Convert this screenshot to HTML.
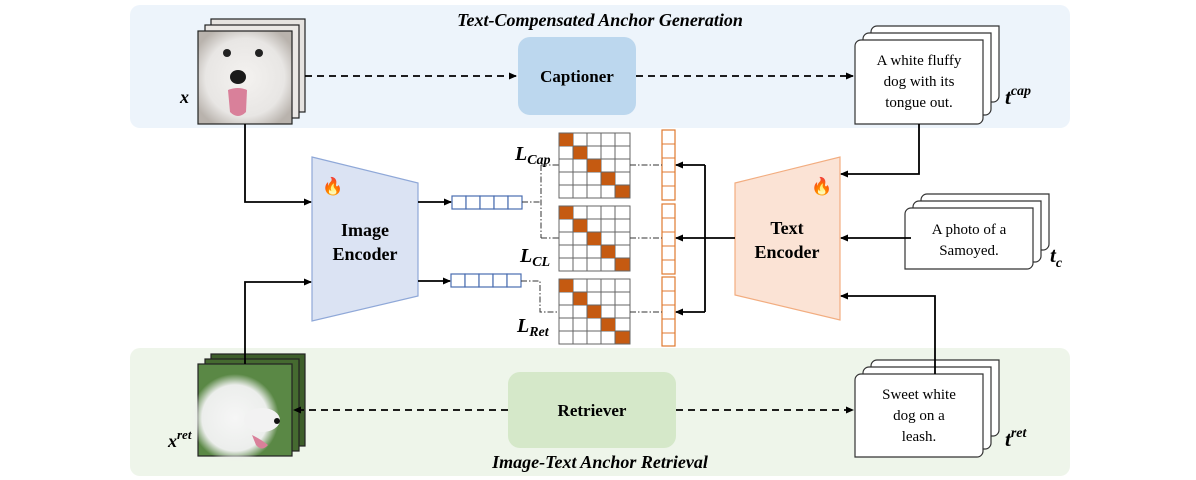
<!DOCTYPE html>
<html><head><meta charset="utf-8"><style>
html,body{margin:0;padding:0;background:#fff}
svg{display:block}
.t{font-family:"Liberation Serif",serif}
</style></head><body>
<svg width="1196" height="480" viewBox="0 0 1196 480" xmlns="http://www.w3.org/2000/svg">
<defs>
<marker id="a" markerWidth="8" markerHeight="8" refX="7" refY="4" orient="auto" markerUnits="userSpaceOnUse"><path d="M0,0.5 L8,4 L0,7.5 Z" fill="#000"/></marker>
<radialGradient id="dog1" cx="50%" cy="50%" r="60%"><stop offset="0" stop-color="#f4f2f0"/><stop offset="0.7" stop-color="#e8e6e4"/><stop offset="1" stop-color="#b9b3ad"/></radialGradient>
<radialGradient id="dog2" cx="50%" cy="50%" r="50%"><stop offset="0" stop-color="#f6f6f6"/><stop offset="0.75" stop-color="#eceeec"/><stop offset="1" stop-color="#eceeec" stop-opacity="0"/></radialGradient>
</defs>
<rect x="130" y="5" width="940" height="123" rx="10" fill="#edf4fb"/>
<rect x="130" y="348" width="940" height="128" rx="10" fill="#eef5ea"/>
<text x="600" y="26" text-anchor="middle" class="t" font-size="18" font-weight="bold" font-style="italic">Text-Compensated Anchor Generation</text>
<text x="600" y="468" text-anchor="middle" class="t" font-size="18" font-weight="bold" font-style="italic">Image-Text Anchor Retrieval</text>

<!-- top images -->
<rect x="211" y="19" width="94" height="93" fill="#e6e3e0" stroke="#222" stroke-width="1.2"/>
<rect x="205" y="25" width="94" height="93" fill="#ebe8e5" stroke="#222" stroke-width="1.2"/>
<rect x="198" y="31" width="94" height="93" fill="url(#dog1)" stroke="#222" stroke-width="1.2"/>
<circle cx="227" cy="53" r="4" fill="#222"/><circle cx="259" cy="53" r="4" fill="#222"/>
<ellipse cx="238" cy="77" rx="8" ry="7" fill="#1a1a1a"/>
<path d="M228,90 Q238,86 247,90 L246,112 Q238,120 230,112 Z" fill="#d9809a"/>
<text x="180" y="103" class="t" font-size="18" font-weight="bold" font-style="italic">x</text>

<!-- bottom images -->
<rect x="211" y="354" width="94" height="92" fill="#3d5e2a" stroke="#222" stroke-width="1.2"/>
<rect x="205" y="359" width="94" height="92" fill="#456a30" stroke="#222" stroke-width="1.2"/>
<rect x="198" y="364" width="94" height="92" fill="#5a8845" stroke="#222" stroke-width="1.2"/>
<ellipse cx="235" cy="418" rx="44" ry="44" fill="url(#dog2)"/>
<ellipse cx="262" cy="420" rx="18" ry="12" fill="#f2f2f2"/>
<path d="M252,435 Q262,440 268,445 Q262,452 256,445 Z" fill="#d9809a"/>
<circle cx="277" cy="421" r="3" fill="#111"/>
<text x="168" y="447" class="t" font-size="18" font-weight="bold" font-style="italic">x<tspan font-size="13" dy="-8">ret</tspan></text>

<!-- captioner / retriever -->
<rect x="518" y="37" width="118" height="78" rx="12" fill="#bcd7ee"/>
<text x="577" y="82" text-anchor="middle" class="t" font-size="17" font-weight="bold">Captioner</text>
<rect x="508" y="372" width="168" height="76" rx="12" fill="#d5e8c9"/>
<text x="592" y="416" text-anchor="middle" class="t" font-size="17" font-weight="bold">Retriever</text>

<!-- text card stacks -->
<g fill="#fff" stroke="#333" stroke-width="1.2">
<path d="M877,26 h122 v70 a6,6 0 0 1 -6,6 h-122 v-70 a6,6 0 0 1 6,-6z"/>
<path d="M869,33 h122 v76 a6,6 0 0 1 -6,6 h-122 v-76 a6,6 0 0 1 6,-6z"/>
<path d="M861,40 h122 v78 a6,6 0 0 1 -6,6 h-122 v-78 a6,6 0 0 1 6,-6z"/>
<path d="M927,194 h122 v50 a6,6 0 0 1 -6,6 h-122 v-50 a6,6 0 0 1 6,-6z"/>
<path d="M919,201 h122 v55 a6,6 0 0 1 -6,6 h-122 v-55 a6,6 0 0 1 6,-6z"/>
<path d="M911,208 h122 v55 a6,6 0 0 1 -6,6 h-122 v-55 a6,6 0 0 1 6,-6z"/>
<path d="M877,360 h122 v70 a6,6 0 0 1 -6,6 h-122 v-70 a6,6 0 0 1 6,-6z"/>
<path d="M869,367 h122 v76 a6,6 0 0 1 -6,6 h-122 v-76 a6,6 0 0 1 6,-6z"/>
<path d="M861,374 h122 v77 a6,6 0 0 1 -6,6 h-122 v-77 a6,6 0 0 1 6,-6z"/>
</g>
<g class="t" font-size="15" text-anchor="middle">
<text x="919" y="65">A white fluffy</text><text x="919" y="86">dog with its</text><text x="919" y="107">tongue out.</text>
<text x="969" y="234">A photo of a</text><text x="969" y="255">Samoyed.</text>
<text x="919" y="399">Sweet white</text><text x="919" y="420">dog on a</text><text x="919" y="441">leash.</text>
</g>
<text x="1005" y="104" class="t" font-size="21" font-weight="bold" font-style="italic">t<tspan font-size="14" dy="-9">cap</tspan></text>
<text x="1050" y="262" class="t" font-size="21" font-weight="bold" font-style="italic">t<tspan font-size="14" dy="5">c</tspan></text>
<text x="1005" y="446" class="t" font-size="21" font-weight="bold" font-style="italic">t<tspan font-size="14" dy="-9">ret</tspan></text>

<!-- encoders -->
<polygon points="312,157 418,183 418,296 312,321" fill="#dbe3f3" stroke="#8fa8d8" stroke-width="1.2"/>
<text x="365" y="236" text-anchor="middle" class="t" font-size="18" font-weight="bold">Image</text>
<text x="365" y="260" text-anchor="middle" class="t" font-size="18" font-weight="bold">Encoder</text>
<text x="333" y="192" font-size="17" text-anchor="middle" fill="#f06020">🔥</text>
<polygon points="735,183 840,157 840,320 735,295" fill="#fbe3d5" stroke="#f2ad80" stroke-width="1.2"/>
<text x="787" y="234" text-anchor="middle" class="t" font-size="18" font-weight="bold">Text</text>
<text x="787" y="258" text-anchor="middle" class="t" font-size="18" font-weight="bold">Encoder</text>
<text x="822" y="192" font-size="17" text-anchor="middle" fill="#f06020">🔥</text>

<!-- embedding bars -->
<g fill="#fff" stroke="#4a6db0" stroke-width="1.2">
<rect x="452" y="196" width="14" height="13"/><rect x="466" y="196" width="14" height="13"/><rect x="480" y="196" width="14" height="13"/><rect x="494" y="196" width="14" height="13"/><rect x="508" y="196" width="14" height="13"/>
<rect x="451" y="274" width="14" height="13"/><rect x="465" y="274" width="14" height="13"/><rect x="479" y="274" width="14" height="13"/><rect x="493" y="274" width="14" height="13"/><rect x="507" y="274" width="14" height="13"/>
</g>

<!-- matrices -->
<g id="m">
<rect x="559" y="133" width="71" height="65" fill="#fff" stroke="#666" stroke-width="1"/>
<g stroke="#666" stroke-width="1"><path d="M573,133v65M587,133v65M601,133v65M615,133v65M559,146h71M559,159h71M559,172h71M559,185h71"/></g>
<g fill="#c55a11"><rect x="559.5" y="133.5" width="13.5" height="12.5"/><rect x="573.5" y="146.5" width="13.5" height="12.5"/><rect x="587.5" y="159.5" width="13.5" height="12.5"/><rect x="601.5" y="172.5" width="13.5" height="12.5"/><rect x="615.5" y="185.5" width="14" height="12"/></g>
</g>
<use href="#m" y="73"/>
<use href="#m" y="146"/>
<text x="515" y="160" class="t" font-size="20" font-weight="bold" font-style="italic">L<tspan font-size="14" dy="4">Cap</tspan></text>
<text x="520" y="262" class="t" font-size="20" font-weight="bold" font-style="italic">L<tspan font-size="14" dy="4">CL</tspan></text>
<text x="517" y="332" class="t" font-size="20" font-weight="bold" font-style="italic">L<tspan font-size="14" dy="4">Ret</tspan></text>

<!-- orange bars -->
<g fill="#fff" stroke="#e07a30" stroke-width="1.2">
<rect x="662" y="130" width="13" height="70"/><rect x="662" y="204" width="13" height="70"/><rect x="662" y="277" width="13" height="69"/>
</g>
<g stroke="#e07a30" stroke-width="1"><path d="M662,144h13M662,158h13M662,172h13M662,186h13M662,218h13M662,232h13M662,246h13M662,260h13M662,291h13M662,305h13M662,319h13M662,333h13"/></g>

<!-- dash-dot lines -->
<g stroke="#333" stroke-width="1" fill="none" stroke-dasharray="6,2,1.5,2">
<path d="M522,202 H541 M541,165 V238 M541,165 H559 M541,238 H559"/>
<path d="M521,281 H540 V312 H559"/>
<path d="M630,165 H662 M630,238 H662 M630,312 H662"/>
</g>

<!-- solid arrows -->
<g stroke="#000" stroke-width="1.8" fill="none">
<path d="M245,124 V202 H311" marker-end="url(#a)"/>
<path d="M245,364 V282 H311" marker-end="url(#a)"/>
<path d="M418,202 H451" marker-end="url(#a)"/>
<path d="M418,281 H450" marker-end="url(#a)"/>
<path d="M735,238 H676" marker-end="url(#a)"/>
<path d="M705,165 V312"/>
<path d="M705,165 H676" marker-end="url(#a)"/>
<path d="M705,312 H676" marker-end="url(#a)"/>
<path d="M919,124 V174 H841" marker-end="url(#a)"/>
<path d="M911,238 H841" marker-end="url(#a)"/>
<path d="M935,374 V296 H841" marker-end="url(#a)"/>
</g>
<!-- dashed arrows -->
<g stroke="#000" stroke-width="1.8" fill="none" stroke-dasharray="7,5">
<path d="M305,76 H516" marker-end="url(#a)"/>
<path d="M636,76 H853" marker-end="url(#a)"/>
<path d="M508,410 H294" marker-end="url(#a)"/>
<path d="M676,410 H853" marker-end="url(#a)"/>
</g>
</svg>
</body></html>
